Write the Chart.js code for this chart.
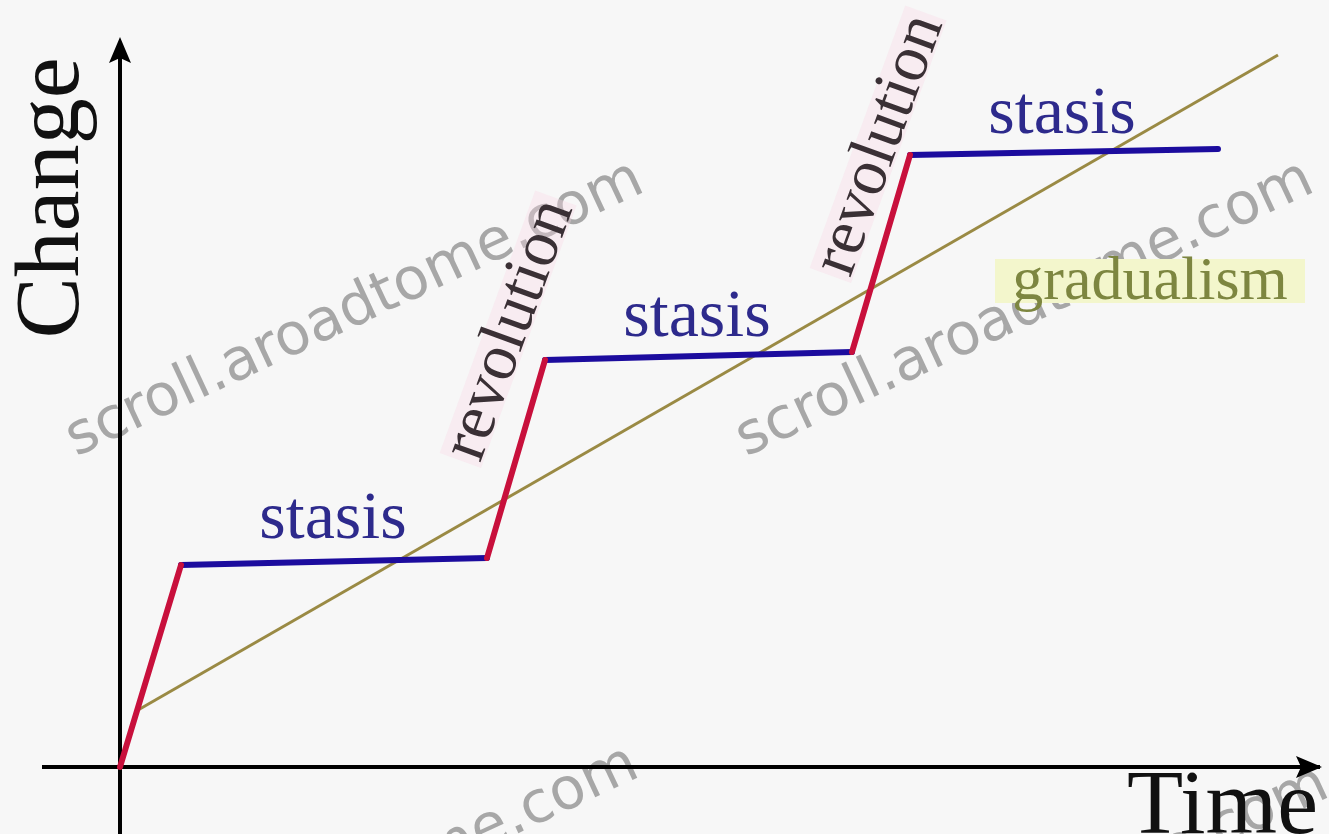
<!DOCTYPE html>
<html>
<head>
<meta charset="utf-8">
<script src="https://cdn.jsdelivr.net/npm/chart.js@4/dist/chart.umd.min.js"></script>
<style>
body{margin:0;background:#f7f7f7;}
canvas{display:block;}
</style>
</head>
<body>
<canvas id="chart" width="1329" height="834"></canvas>
<script>
// step path: revolution (red) goes up fast, stasis (blue) stays almost flat
const timeSteps   = [0, 0.61, 3.67, 4.25, 7.32, 7.90, 10.98];
const changeSteps = [0, 2.02, 2.09, 4.07, 4.15, 6.12, 6.18];
// gradualism (straight slow line)
const gradualTime   = [0.18, 11.58];
const gradualChange = [0.57, 7.12];
// labels: text, x, y
const labelText  = ["stasis", "stasis", "stasis", "revolution", "revolution", "gradualism"];
const labelTime  = [2.13, 5.77, 9.42, 3.90, 7.60, 10.30];
const labelChange= [2.47, 4.49, 6.52, 4.37, 6.22, 4.84];
const axisNames  = ["Time", "Change"];

function segs(first){
  let pts=[];
  for(let i=first;i<timeSteps.length-1;i+=2){
    pts.push({x:timeSteps[i],y:changeSteps[i]});
    pts.push({x:timeSteps[i+1],y:changeSteps[i+1]});
    pts.push({x:NaN,y:NaN});
  }
  return pts;
}

const marks = {
  id:'marks',
  beforeDatasetsDraw(chart){
    const ctx=chart.ctx, xs=chart.scales.x, ys=chart.scales.y;
    ctx.save();
    // watermark
    ctx.font='58px "DejaVu Sans"';
    ctx.fillStyle='rgba(140,140,140,0.75)';
    ctx.textAlign='center';ctx.textBaseline='middle';
    [[355,310],[1025,310],[350,895],[1040,915]].forEach(p=>{
      ctx.save();ctx.translate(p[0],p[1]);ctx.rotate(-25*Math.PI/180);
      ctx.fillText('scroll.aroadtome.com',0,0);ctx.restore();
    });
    // axes with arrows
    const ox=xs.getPixelForValue(0), oy=ys.getPixelForValue(0);
    ctx.strokeStyle='#000';ctx.fillStyle='#000';ctx.lineWidth=4;
    ctx.beginPath();
    ctx.moveTo(xs.getPixelForValue(-0.78),oy);ctx.lineTo(xs.getPixelForValue(12.0),oy);
    ctx.moveTo(ox,ys.getPixelForValue(-0.7));ctx.lineTo(ox,ys.getPixelForValue(7.1));
    ctx.stroke();
    let tx=xs.getPixelForValue(12.02);
    ctx.beginPath();ctx.moveTo(tx,oy);ctx.lineTo(tx-26,oy-11);ctx.lineTo(tx-21,oy);ctx.lineTo(tx-26,oy+11);ctx.closePath();ctx.fill();
    let ty=ys.getPixelForValue(7.3);
    ctx.beginPath();ctx.moveTo(ox,ty);ctx.lineTo(ox-11,ty+26);ctx.lineTo(ox,ty+21);ctx.lineTo(ox+11,ty+26);ctx.closePath();ctx.fill();
    ctx.restore();
  },
  afterDatasetsDraw(chart){
    const ctx=chart.ctx, xs=chart.scales.x, ys=chart.scales.y;
    ctx.save();
    ctx.textAlign='center';ctx.textBaseline='middle';
    labelText.forEach((t,i)=>{
      const px=xs.getPixelForValue(labelTime[i]), py=ys.getPixelForValue(labelChange[i]);
      ctx.save();ctx.translate(px,py);
      if(t==='revolution'){
        ctx.rotate(-70*Math.PI/180);
        ctx.font='66px "Liberation Serif"';
        const w=ctx.measureText(t).width;
        ctx.fillStyle='rgba(250,215,228,0.35)';ctx.fillRect(-w/2-4,-24,w+8,44);
        ctx.fillStyle='#3a3035';
      }else if(t==='gradualism'){
        ctx.font='62px "Liberation Serif"';
        ctx.fillStyle='#f3f6cc';ctx.fillRect(-155,-24,310,44);
        ctx.fillStyle='#7d8640';
      }else{
        ctx.font='68px "Liberation Serif"';
        ctx.fillStyle='#2d2a8c';
      }
      ctx.fillText(t,0,0);
      ctx.restore();
    });
    // axis names
    ctx.fillStyle='#111';
    ctx.font='92px "Liberation Serif"';
    ctx.textAlign='right';ctx.textBaseline='alphabetic';
    ctx.fillText(axisNames[0],1318,833);
    ctx.save();ctx.translate(78,198);ctx.rotate(-Math.PI/2);
    ctx.textAlign='center';ctx.fillText(axisNames[1],0,0);
    ctx.restore();
    ctx.restore();
  }
};

new Chart(document.getElementById('chart'),{
  type:'scatter',
  data:{
    datasets:[
      {label:'revolution',data:segs(0),showLine:true,spanGaps:false,borderColor:'#c8103c',borderWidth:6,pointRadius:0,borderCapStyle:'round',borderJoinStyle:'round',order:1},
      {label:'stasis',data:segs(1),showLine:true,spanGaps:false,borderColor:'#1c0c9e',borderWidth:6,pointRadius:0,borderCapStyle:'round',order:2},
      {label:'gradualism',data:gradualTime.map((t,i)=>({x:t,y:gradualChange[i]})),showLine:true,borderColor:'#9a8a44',borderWidth:3,pointRadius:0,order:3}
    ]
  },
  options:{
    responsive:false,animation:false,
    layout:{padding:0},
    plugins:{legend:{display:false},tooltip:{enabled:false}},
    scales:{
      x:{type:'linear',min:-1.2,max:12.09,display:false},
      y:{type:'linear',min:-0.67,max:7.67,display:false}
    }
  },
  plugins:[marks]
});
</script>
</body>
</html>
